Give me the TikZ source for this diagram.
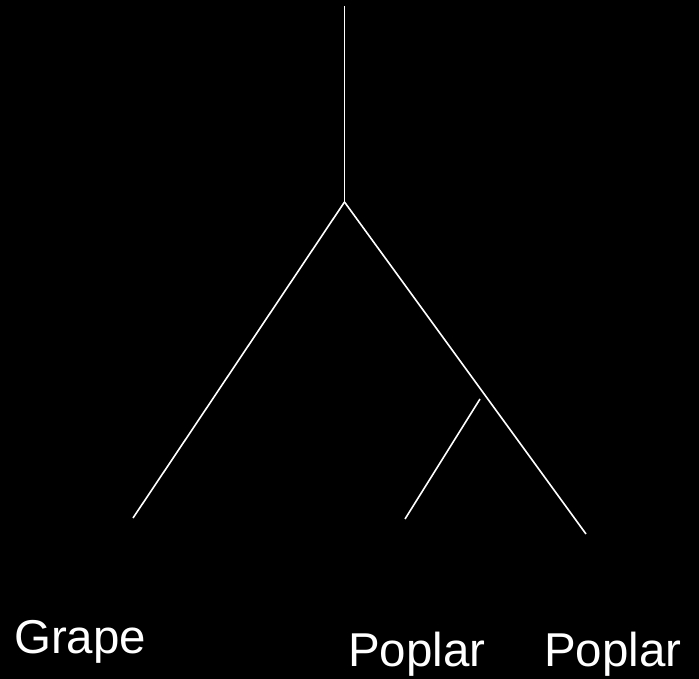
\documentclass[tikz,border=0pt]{standalone}
\usepackage{fontspec}
\setmainfont{Liberation Sans}
\usepackage{tikz}
\begin{document}
\begin{tikzpicture}[x=1pt,y=-1pt,branch/.style={white,line width=1.6pt},taxon/.style={white,anchor=base west,inner sep=0pt,font=\fontsize{47.5}{47.5}\selectfont}]
\fill[black] (0,0) rectangle (699,679);\useasboundingbox (0,0) rectangle (699,679);
\coordinate (top) at (344.5,6);\coordinate (root) at (344.5,202);
\coordinate (grape) at (133,518);\coordinate (popB) at (586,534);
\coordinate (inner) at (480,399);\coordinate (popA) at (405,519);
\draw[branch] (top)--(root);\draw[branch] (root)--(grape);\draw[branch] (root)--(popB);\draw[branch] (inner)--(popA);
\node[taxon] (lgrape) at (14,653){Grape};\node[taxon] (lpopA) at (348,666){Poplar};\node[taxon] (lpopB) at (544,666){Poplar};
\end{tikzpicture}
\end{document}
